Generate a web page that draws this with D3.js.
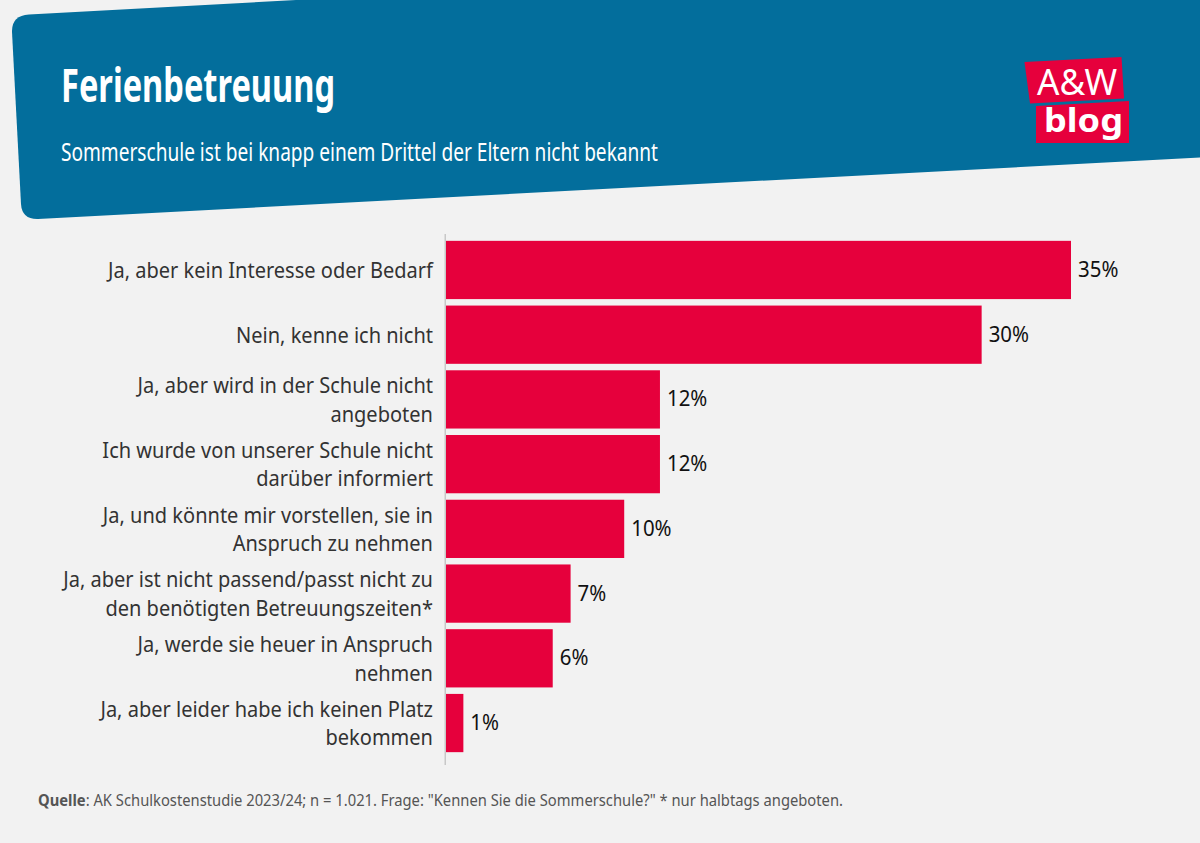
<!DOCTYPE html>
<html lang="de">
<head>
<meta charset="utf-8">
<title>Ferienbetreuung</title>
<script src="https://cdn.jsdelivr.net/npm/d3@7"></script>
<style>
    html, body { margin: 0; padding: 0; background: #f2f2f2; }
    svg { display: block; }
    text { font-family: "Noto Sans", sans-serif; }
</style>
</head>
<body>
<div id="chart"></div>
<script>
// Chart data
const categories = [
    "Ja, aber kein Interesse oder Bedarf",
    "Nein, kenne ich nicht",
    "Ja, aber wird in der Schule nicht angeboten",
    "Ich wurde von unserer Schule nicht darüber informiert",
    "Ja, und könnte mir vorstellen, sie in Anspruch zu nehmen",
    "Ja, aber ist nicht passend/passt nicht zu den benötigten Betreuungszeiten*",
    "Ja, werde sie heuer in Anspruch nehmen",
    "Ja, aber leider habe ich keinen Platz bekommen"
];
const values = [35, 30, 12, 12, 10, 7, 6, 1];

// Line breaks of the category labels, as in the original
const labelLines = [
    ["Ja, aber kein Interesse oder Bedarf"],
    ["Nein, kenne ich nicht"],
    ["Ja, aber wird in der Schule nicht", "angeboten"],
    ["Ich wurde von unserer Schule nicht", "darüber informiert"],
    ["Ja, und könnte mir vorstellen, sie in", "Anspruch zu nehmen"],
    ["Ja, aber ist nicht passend/passt nicht zu", "den benötigten Betreuungszeiten*"],
    ["Ja, werde sie heuer in Anspruch", "nehmen"],
    ["Ja, aber leider habe ich keinen Platz", "bekommen"]
];

const titleText = "Ferienbetreuung";
const subtitleText = "Sommerschule ist bei knapp einem Drittel der Eltern nicht bekannt";
const sourceBold = "Quelle";
const sourceText = ": AK Schulkostenstudie 2023/24; n = 1.021. Frage: \"Kennen Sie die Sommerschule?\" * nur halbtags angeboten.";

const width = 1200;
const height = 843;

const svg = d3.select("#chart").append("svg")
    .attr("width", width)
    .attr("height", height)
    .attr("viewBox", [0, 0, width, height]);

svg.append("rect")
    .attr("width", width)
    .attr("height", height)
    .attr("fill", "#f2f2f2");

// Slanted header band
svg.append("path")
    .attr("fill", "#036e9c")
    .attr("d", "M12,32 Q11.5,15.5 29,14.5 L296,0 L1200,0 L1200,157.5 L38,219 Q22,219.5 21,204 Z");

// Squeeze a text to the width the original font takes
function fitText(sel, w) {
    sel.attr("textLength", w).attr("lengthAdjust", "spacingAndGlyphs");
}

// Same, but by a factor of the measured width
function squeeze(node, factor) {
    d3.select(node)
        .attr("textLength", node.getComputedTextLength() * factor)
        .attr("lengthAdjust", "spacingAndGlyphs");
}

// Header text
svg.append("text")
    .attr("x", 61)
    .attr("y", 102)
    .attr("fill", "#fff")
    .attr("font-size", 46)
    .attr("font-weight", 700)
    .text(titleText)
    .call(fitText, 274);

svg.append("text")
    .attr("x", 61)
    .attr("y", 161)
    .attr("fill", "#fff")
    .attr("font-size", 25)
    .text(subtitleText)
    .call(fitText, 597);

// Logo
const logo = svg.append("g");
logo.append("path")
    .attr("fill", "#e6003c")
    .attr("d", "M1024.5,62 L1121.5,57 L1124,98.5 L1030,103.5 Z");
logo.append("path")
    .attr("fill", "#e6003c")
    .attr("d", "M1036,106 L1129,101 L1129,143 L1036,143 Z");
logo.append("text")
    .attr("x", 1037)
    .attr("y", 95)
    .attr("fill", "#fff")
    .attr("font-size", 37)
    .text("A&W")
    .call(fitText, 80);
logo.append("text")
    .attr("x", 1044)
    .attr("y", 132)
    .attr("fill", "#fff")
    .attr("font-size", 33)
    .attr("font-weight", 700)
    .text("blog")
    .call(fitText, 79);

// Scales
const x = d3.scaleLinear()
    .domain([0, 35])
    .range([445.5, 1071]);

const y = d3.scaleBand()
    .domain(categories)
    .range([237.6, 755.4])
    .paddingInner(0.1)
    .paddingOuter(0.05);

// Bars
svg.append("g")
    .selectAll("rect")
    .data(categories)
    .join("rect")
    .attr("x", x(0))
    .attr("y", d => y(d))
    .attr("width", (d, i) => x(values[i]) - x(0))
    .attr("height", y.bandwidth())
    .attr("fill", "#e6003c");

// Axis line
svg.append("line")
    .attr("x1", x(0) - 0.25)
    .attr("x2", x(0) - 0.25)
    .attr("y1", 234)
    .attr("y2", 765)
    .attr("stroke", "#c8c8c8")
    .attr("stroke-width", 1.5);

// Category labels, one text per line so each can be squeezed
svg.append("g")
    .selectAll("g")
    .data(categories)
    .join("g")
    .each(function (d, i) {
        const lines = labelLines[i];
        const mid = y(d) + y.bandwidth() / 2;
        d3.select(this).selectAll("text")
            .data(lines)
            .join("text")
            .attr("x", 433)
            .attr("y", (l, j) => mid + 8 + (j - (lines.length - 1) / 2) * 28.5)
            .attr("text-anchor", "end")
            .attr("fill", "#333")
            .attr("font-size", 22)
            .text(l => l)
            .each(function () { squeeze(this, 0.91); });
    });

// Value labels
svg.append("g")
    .selectAll("text")
    .data(categories)
    .join("text")
    .attr("x", (d, i) => x(values[i]) + 7)
    .attr("y", d => y(d) + y.bandwidth() / 2 + 7)
    .attr("fill", "#111")
    .attr("font-size", 22)
    .text((d, i) => values[i] + "%")
    .each(function () { squeeze(this, 0.93); });

// Source
const source = svg.append("text")
    .attr("x", 38)
    .attr("y", 806)
    .attr("fill", "#555")
    .attr("font-size", 16);
source.append("tspan").attr("font-weight", 700).text(sourceBold);
source.append("tspan").text(sourceText);
source.call(fitText, 805);
</script>
</body>
</html>
